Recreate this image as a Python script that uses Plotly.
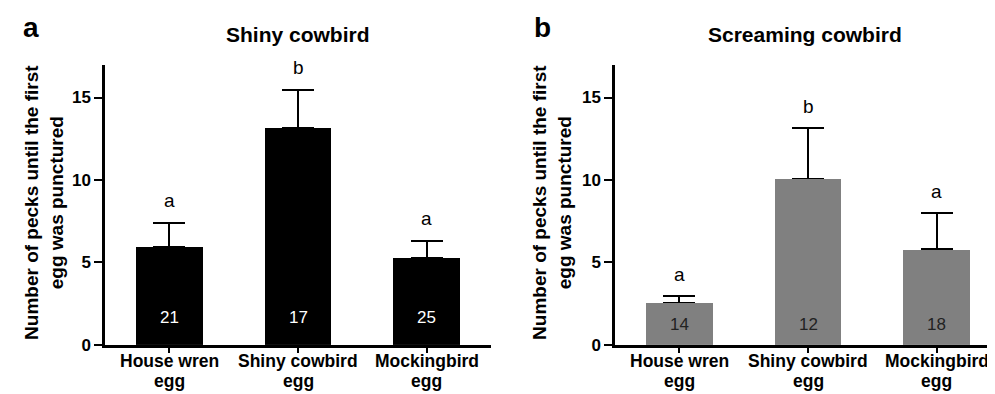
import plotly.graph_objects as go

category_line1 = ["House wren", "Shiny cowbird", "Mockingbird"]
category_line2 = ["egg", "egg", "egg"]
shiny_means = [5.95, 13.18, 5.27]
shiny_err = [1.45, 2.28, 1.03]
shiny_n = ["21", "17", "25"]
shiny_letters = ["a", "b", "a"]
scream_means = [2.54, 10.08, 5.81]
scream_err = [0.42, 3.06, 2.16]
scream_n = ["14", "12", "18"]
scream_letters = ["a", "b", "a"]
y_ticks = [0, 5, 10, 15]

FONT = "Liberation Sans, Arial, sans-serif"
xs = [0, 1, 2]

fig = go.Figure()
for means, errs, color, xa, ya in [
    (shiny_means, shiny_err, "#000000", "x", "y"),
    (scream_means, scream_err, "#808080", "x2", "y2"),
]:
    # bars with upward error bars
    fig.add_trace(go.Bar(x=xs, y=means, width=0.52, marker=dict(color=color, line=dict(width=0)),
                         error_y=dict(type="data", array=errs, arrayminus=[0, 0, 0], symmetric=False,
                                      color="#000000", thickness=2, width=16),
                         xaxis=xa, yaxis=ya, showlegend=False))
    # same bars on top to hide the lower cross-bar of the error bars
    fig.add_trace(go.Bar(x=xs, y=means, width=0.52, marker=dict(color=color, line=dict(width=0)),
                         xaxis=xa, yaxis=ya, showlegend=False, hoverinfo="skip"))

axis_common = dict(showline=True, linecolor="#000000", linewidth=2.5, ticks="outside", ticklen=8,
                   tickwidth=2, tickcolor="#000000", showgrid=False, zeroline=False,
                   tickfont=dict(family=FONT, size=17, color="#000000", weight="bold"))
xcommon = dict(axis_common, range=[-0.5, 2.5], tickvals=xs, showticklabels=False, ticklen=5)
ycommon = dict(axis_common, range=[0, 17], tickvals=y_ticks)

ydom = [1 - 345.6 / 394, 1 - 58 / 394]
fig.update_layout(
    width=995, height=394, margin=dict(l=0, r=0, t=0, b=0),
    plot_bgcolor="white", paper_bgcolor="white", bargap=0, barmode="overlay",
    xaxis=dict(xcommon, domain=[97 / 995, 483 / 995], anchor="y"),
    yaxis=dict(ycommon, domain=ydom, anchor="x"),
    xaxis2=dict(xcommon, domain=[607 / 995, 993 / 995], anchor="y2"),
    yaxis2=dict(ycommon, domain=ydom, anchor="x2"),
)

ann = []
title_font = dict(family=FONT, size=21, color="#000000", weight="bold")
ytitle_font = dict(family=FONT, size=19, color="#000000", weight="bold")
xlab_font = dict(family=FONT, size=17.5, color="#000000", weight="bold")
for xref, yref, title, letter, lx, tx, yx in [
    ("x", "y", "Shiny cowbird", "a", 23 / 995, 290 / 995, 36 / 995),
    ("x2", "y2", "Screaming cowbird", "b", 534 / 995, 797 / 995, 544 / 995),
]:
    ann.append(dict(text=letter, x=lx, y=1 - 20 / 394, xref="paper", yref="paper", showarrow=False,
                    xanchor="center", yanchor="middle",
                    font=dict(family=FONT, size=28, color="#000000", weight="bold")))
    ann.append(dict(text=title, x=tx, y=1 - 27 / 394, xref="paper", yref="paper", showarrow=False,
                    xanchor="center", yanchor="middle", font=title_font))
    ann.append(dict(text="Number of pecks until the first<br>egg was punctured", x=yx, y=1 - 200 / 394,
                    xref="paper", yref="paper", showarrow=False, textangle=-90,
                    xanchor="center", yanchor="middle", font=ytitle_font))
    for i in xs:
        ann.append(dict(text=category_line1[i], x=i, y=1 - 362.5 / 394, xref=xref, yref="paper",
                        showarrow=False, xanchor="center", yanchor="middle", borderpad=0, font=xlab_font))
        ann.append(dict(text=category_line2[i], x=i, y=1 - 383 / 394, xref=xref, yref="paper",
                        showarrow=False, xanchor="center", yanchor="middle", borderpad=0, font=xlab_font))

for i in xs:
    ann.append(dict(text=shiny_letters[i], x=i, y=shiny_means[i] + shiny_err[i], xref="x", yref="y",
                    yshift=22, showarrow=False, font=dict(family=FONT, size=19, color="#000000")))
    ann.append(dict(text=shiny_n[i], x=i, y=0, xref="x", yref="y", yshift=27, showarrow=False,
                    font=dict(family=FONT, size=17, color="#ffffff")))
    ann.append(dict(text=scream_letters[i], x=i, y=scream_means[i] + scream_err[i], xref="x2", yref="y2",
                    yshift=22, showarrow=False, font=dict(family=FONT, size=19, color="#000000")))
    ann.append(dict(text=scream_n[i], x=i, y=0, xref="x2", yref="y2", yshift=20, showarrow=False,
                    font=dict(family=FONT, size=17, color="#222222")))

fig.update_layout(annotations=ann)
fig.write_html("out.html")
